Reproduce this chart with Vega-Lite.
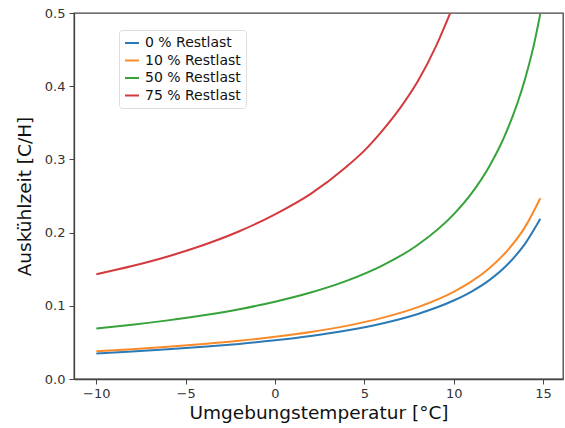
{
  "$schema": "https://vega.github.io/schema/vega-lite/v6.json",
  "width": 489,
  "height": 366,
  "autosize": {"type": "none"},
  "padding": {"left": 74, "top": 13, "right": 2, "bottom": 49},
  "background": "white",
  "config": {
    "font": "DejaVu Sans",
    "view": {"stroke": "#444", "strokeWidth": 1.3},
    "axis": {
      "grid": false,
      "domainColor": "#444",
      "domainWidth": 1.3,
      "tickColor": "#444",
      "tickSize": 5,
      "labelFontSize": 13,
      "labelColor": "#333",
      "titleFontSize": 18.5,
      "titleFontWeight": "normal",
      "titleColor": "#111"
    }
  },
  "data": {
    "values": [
      {"T": -10, "y": 0.0350, "s": "0 % Restlast"},
      {"T": -8, "y": 0.0375, "s": "0 % Restlast"},
      {"T": -6, "y": 0.0405, "s": "0 % Restlast"},
      {"T": -4, "y": 0.0439, "s": "0 % Restlast"},
      {"T": -2, "y": 0.0479, "s": "0 % Restlast"},
      {"T": 0, "y": 0.0528, "s": "0 % Restlast"},
      {"T": 2, "y": 0.0588, "s": "0 % Restlast"},
      {"T": 4, "y": 0.0662, "s": "0 % Restlast"},
      {"T": 6, "y": 0.0759, "s": "0 % Restlast"},
      {"T": 8, "y": 0.0889, "s": "0 % Restlast"},
      {"T": 10, "y": 0.1072, "s": "0 % Restlast"},
      {"T": 11, "y": 0.1195, "s": "0 % Restlast"},
      {"T": 12, "y": 0.1351, "s": "0 % Restlast"},
      {"T": 13, "y": 0.1560, "s": "0 % Restlast"},
      {"T": 14, "y": 0.1850, "s": "0 % Restlast"},
      {"T": 14.85, "y": 0.2190, "s": "0 % Restlast"},
      {"T": -10, "y": 0.0380, "s": "10 % Restlast"},
      {"T": -8, "y": 0.0408, "s": "10 % Restlast"},
      {"T": -6, "y": 0.0440, "s": "10 % Restlast"},
      {"T": -4, "y": 0.0478, "s": "10 % Restlast"},
      {"T": -2, "y": 0.0522, "s": "10 % Restlast"},
      {"T": 0, "y": 0.0576, "s": "10 % Restlast"},
      {"T": 2, "y": 0.0642, "s": "10 % Restlast"},
      {"T": 4, "y": 0.0726, "s": "10 % Restlast"},
      {"T": 6, "y": 0.0835, "s": "10 % Restlast"},
      {"T": 8, "y": 0.0982, "s": "10 % Restlast"},
      {"T": 10, "y": 0.1191, "s": "10 % Restlast"},
      {"T": 11, "y": 0.1333, "s": "10 % Restlast"},
      {"T": 12, "y": 0.1514, "s": "10 % Restlast"},
      {"T": 13, "y": 0.1752, "s": "10 % Restlast"},
      {"T": 14, "y": 0.2078, "s": "10 % Restlast"},
      {"T": 14.85, "y": 0.2469, "s": "10 % Restlast"},
      {"T": -10, "y": 0.0690, "s": "50 % Restlast"},
      {"T": -8, "y": 0.0741, "s": "50 % Restlast"},
      {"T": -6, "y": 0.0801, "s": "50 % Restlast"},
      {"T": -4, "y": 0.0871, "s": "50 % Restlast"},
      {"T": -2, "y": 0.0954, "s": "50 % Restlast"},
      {"T": 0, "y": 0.1056, "s": "50 % Restlast"},
      {"T": 2, "y": 0.1181, "s": "50 % Restlast"},
      {"T": 4, "y": 0.1340, "s": "50 % Restlast"},
      {"T": 6, "y": 0.1549, "s": "50 % Restlast"},
      {"T": 8, "y": 0.1834, "s": "50 % Restlast"},
      {"T": 10, "y": 0.2249, "s": "50 % Restlast"},
      {"T": 11, "y": 0.2535, "s": "50 % Restlast"},
      {"T": 12, "y": 0.2905, "s": "50 % Restlast"},
      {"T": 13, "y": 0.3402, "s": "50 % Restlast"},
      {"T": 14, "y": 0.4103, "s": "50 % Restlast"},
      {"T": 14.5, "y": 0.4575, "s": "50 % Restlast"},
      {"T": 14.85, "y": 0.4990, "s": "50 % Restlast"},
      {"T": -10, "y": 0.1431, "s": "75 % Restlast"},
      {"T": -8, "y": 0.1543, "s": "75 % Restlast"},
      {"T": -6, "y": 0.1674, "s": "75 % Restlast"},
      {"T": -4, "y": 0.1830, "s": "75 % Restlast"},
      {"T": -2, "y": 0.2018, "s": "75 % Restlast"},
      {"T": 0, "y": 0.2250, "s": "75 % Restlast"},
      {"T": 2, "y": 0.2530, "s": "75 % Restlast"},
      {"T": 4, "y": 0.2900, "s": "75 % Restlast"},
      {"T": 5, "y": 0.3120, "s": "75 % Restlast"},
      {"T": 6, "y": 0.3390, "s": "75 % Restlast"},
      {"T": 7, "y": 0.3700, "s": "75 % Restlast"},
      {"T": 8, "y": 0.4070, "s": "75 % Restlast"},
      {"T": 9, "y": 0.4540, "s": "75 % Restlast"},
      {"T": 9.8, "y": 0.4995, "s": "75 % Restlast"}
    ]
  },
  "mark": {"type": "line", "interpolate": "monotone", "strokeWidth": 2, "clip": true},
  "encoding": {
    "x": {
      "field": "T",
      "type": "quantitative",
      "scale": {"domain": [-11.25, 16.12], "nice": false, "zero": false},
      "axis": {"values": [-10, -5, 0, 5, 10, 15], "format": "d", "title": "Umgebungstemperatur [°C]", "titlePadding": 3, "labelPadding": 3}
    },
    "y": {
      "field": "y",
      "type": "quantitative",
      "scale": {"domain": [0, 0.5], "nice": false},
      "axis": {"values": [0, 0.1, 0.2, 0.3, 0.4, 0.5], "format": ".1f", "title": "Auskühlzeit [C/H]", "titlePadding": 10, "labelPadding": 4}
    },
    "color": {
      "field": "s",
      "type": "nominal",
      "scale": {
        "domain": ["0 % Restlast", "10 % Restlast", "50 % Restlast", "75 % Restlast"],
        "range": ["#2a7ab8", "#f98a2a", "#36a23a", "#d33a3c"]
      },
      "legend": {
        "title": null,
        "orient": "none",
        "legendX": 45,
        "legendY": 17,
        "symbolType": "stroke",
        "symbolStrokeWidth": 2,
        "symbolSize": 196,
        "labelFontSize": 14,
        "labelOffset": 5,
        "labelColor": "#111",
        "rowPadding": 2.5,
        "padding": 5,
        "strokeColor": "#ddd",
        "fillColor": "white",
        "cornerRadius": 3
      }
    }
  }
}
